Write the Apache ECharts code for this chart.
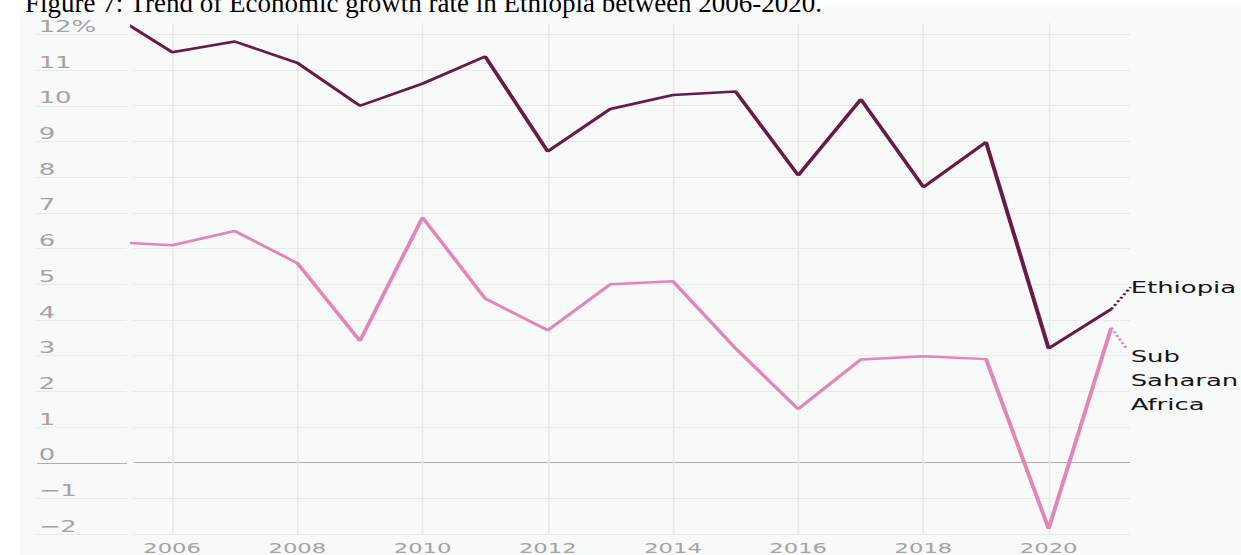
<!DOCTYPE html>
<html>
<head>
<meta charset="utf-8">
<script src="https://cdn.jsdelivr.net/npm/echarts@6/dist/echarts.min.js"></script>
<style>
  html, body { margin: 0; padding: 0; background: #fff; width: 1241px; height: 555px; overflow: hidden; position: relative; }
  #title { position: absolute; left: 0; top: -16px; width: 1241px; height: 34px; z-index: 2; }
  /* the source figure is stretched sideways, so the chart is drawn narrow and widened */
  #chart { position: absolute; left: 20px; top: 7px; width: 754px; height: 548px; transform: scaleX(1.62); transform-origin: 0 0; }
</style>
</head>
<body>
<div id="chart"></div>
<div id="title"></div>
<script>
const years = [2005, 2006, 2007, 2008, 2009, 2010, 2011, 2012, 2013, 2014, 2015, 2016, 2017, 2018, 2019, 2020, 2021];
const ethiopia = [12.6, 11.5, 11.8, 11.2, 10.0, 10.62, 11.38, 8.72, 9.91, 10.3, 10.4, 8.05, 10.18, 7.72, 8.98, 3.2, 4.3];
const subSaharanAfrica = [6.19, 6.09, 6.49, 5.59, 3.41, 6.87, 4.6, 3.71, 5.0, 5.08, 3.2, 1.5, 2.89, 2.98, 2.9, -1.85, 3.78];
const yTicks = [-2, -1, 0, 1, 2, 3, 4, 5, 6, 7, 8, 9, 10, 11, 12];
const xTicks = [2006, 2008, 2010, 2012, 2014, 2016, 2018, 2020];

const titleText = 'Figure 7: Trend of Economic growth rate in Ethiopia between 2006-2020.';

const gridColor = '#e8e9e9';
const zeroColor = '#b0b0b0';
const splitColors = yTicks.map(v => v === 0 ? zeroColor : gridColor);
const labelFont = 'DejaVu Sans';
const ethColor = '#6a1a44';
const ssaColor = '#e386b5';

// only the last point of each line carries a label (used for the dotted leader)
function toPoints(vals, labelText) {
  const last = vals.length - 1;
  return vals.map((v, i) => {
    if (i !== last) return [years[i], v];
    return {
      value: [years[i], v],
      label: { show: true, formatter: labelText }
    };
  });
}

const titleChart = echarts.init(document.getElementById('title'), null, { renderer: 'svg' });
titleChart.setOption({
  title: {
    text: titleText, left: 20, top: 0,
    textStyle: { fontFamily: 'Liberation Serif', fontSize: 27, fontWeight: 'normal', color: '#000' }
  }
});

const chart = echarts.init(document.getElementById('chart'), null, { renderer: 'svg' });
chart.setOption({
  animation: false,
  backgroundColor: '#f8f9f9',
  grid: [
    { left: 10.5, width: 55.5, top: 16.3, bottom: 20.8 },
    { left: 69.9, right: 68.8, top: 16.3, bottom: 20.8 }
  ],
  xAxis: [
    { gridIndex: 0, type: 'value', min: 0, max: 1, show: false },
    {
      gridIndex: 1, type: 'value', min: 2005.379, max: 2021.30,
      axisLine: { show: false },
      axisTick: { show: false, customValues: xTicks },
      axisLabel: {
        customValues: xTicks, color: '#a3a3a3', fontFamily: labelFont, fontSize: 14, margin: 7,
        formatter: v => String(v)
      },
      splitLine: { show: true, lineStyle: { color: gridColor, width: 1 } }
    }
  ],
  yAxis: [
    {
      gridIndex: 0, type: 'value', min: -2, max: 12.31,
      axisLine: { show: false },
      axisTick: { show: false, customValues: yTicks },
      axisLabel: {
        customValues: yTicks, inside: true, margin: 1, align: 'left', verticalAlign: 'bottom',
        color: '#a3a3a3', fontFamily: labelFont, fontSize: 16,
        formatter: v => v === 12 ? '12%' : (v < 0 ? '\u2212' + Math.abs(v) : String(v))
      },
      splitLine: { show: true, lineStyle: { color: splitColors, width: 1 } }
    },
    {
      gridIndex: 1, type: 'value', min: -2, max: 12.31,
      axisLine: { show: false },
      axisTick: { show: false, customValues: yTicks },
      axisLabel: { show: false, customValues: yTicks },
      splitLine: { show: true, lineStyle: { color: splitColors, width: 1 } }
    }
  ],
  series: [
    {
      name: 'Ethiopia', type: 'line', xAxisIndex: 1, yAxisIndex: 1,
      data: toPoints(ethiopia, 'Ethiopia'),
      symbol: 'circle', symbolSize: 0, showSymbol: true, showAllSymbol: true,
      lineStyle: { color: ethColor, width: 2.5 },
      itemStyle: { color: ethColor },
      label: { show: false, position: 'right', distance: 12, color: '#141414', fontFamily: labelFont, fontSize: 16 },
      labelLayout: { dy: -22 },
      labelLine: { show: true, lineStyle: { color: ethColor, width: 2, type: 'dotted' } },
      z: 3
    },
    {
      name: 'Sub Saharan Africa', type: 'line', xAxisIndex: 1, yAxisIndex: 1,
      // a blank label gives the leader its end point; the name itself is the end label
      data: toPoints(subSaharanAfrica, ' '),
      symbol: 'circle', symbolSize: 0, showSymbol: true, showAllSymbol: true,
      lineStyle: { color: ssaColor, width: 2.5 },
      itemStyle: { color: ssaColor },
      label: { show: false, position: 'right', distance: 8, fontFamily: labelFont, fontSize: 12 },
      labelLayout: { dy: 28 },
      labelLine: { show: true, lineStyle: { color: ssaColor, width: 2, type: 'dotted' } },
      endLabel: {
        show: true, formatter: 'Sub\nSaharan\nAfrica', distance: 12, offset: [0, 25],
        color: '#141414', fontFamily: labelFont, fontSize: 16, lineHeight: 24, align: 'left'
      },
      z: 2
    }
  ]
});
</script>
</body>
</html>
